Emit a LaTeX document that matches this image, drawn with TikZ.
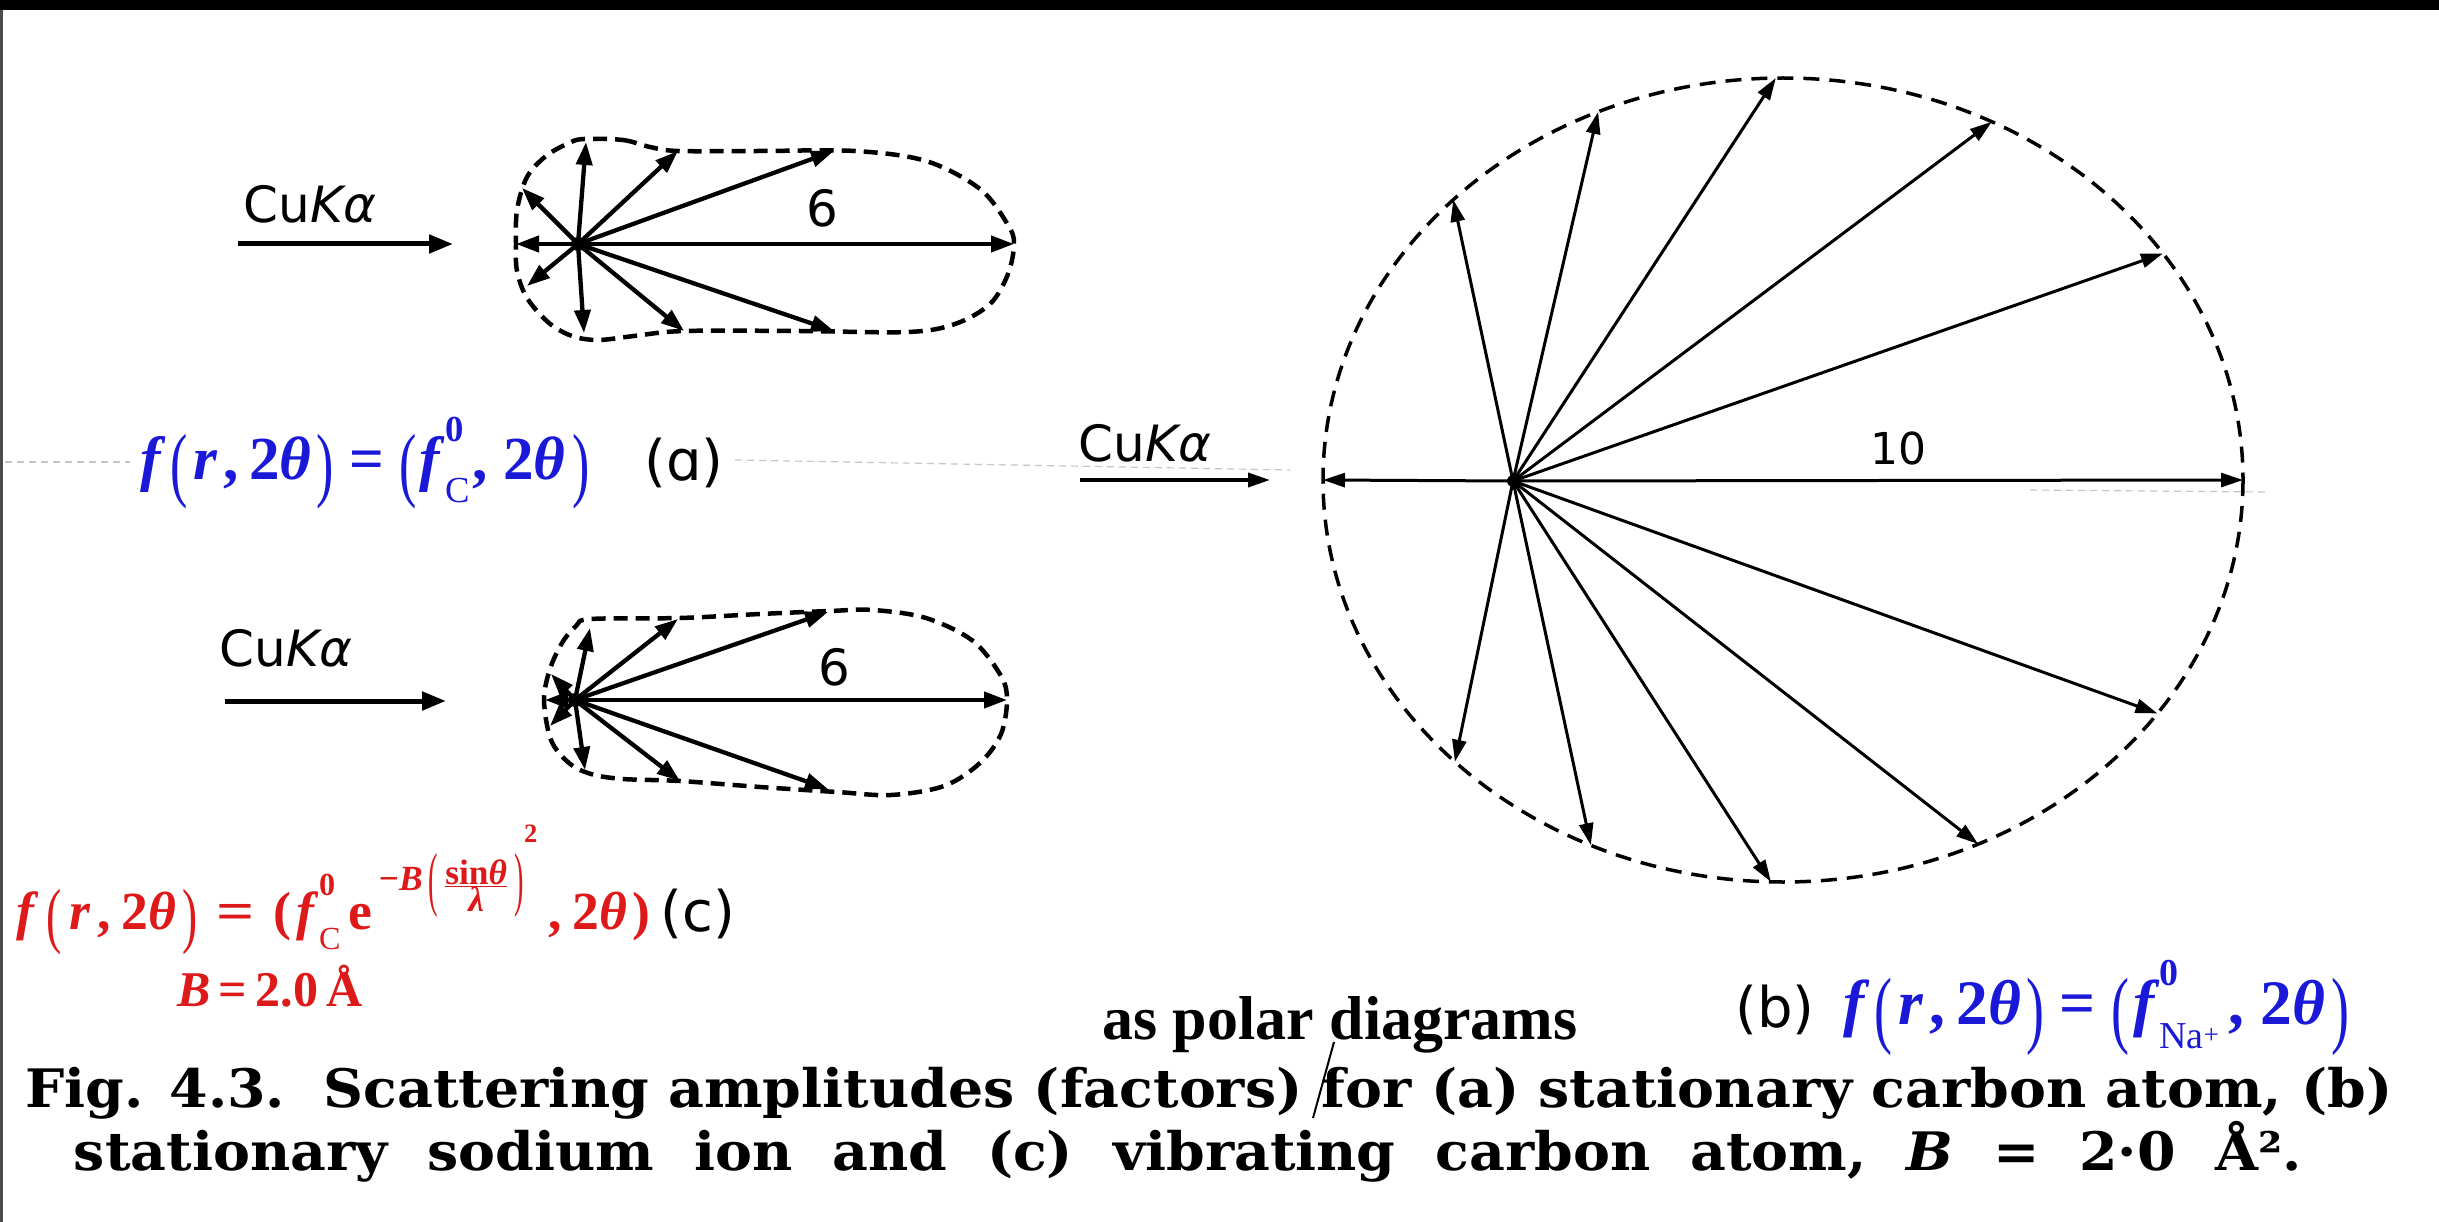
\documentclass[tikz,border=0pt]{standalone}
\usepackage{fontspec}
\setmainfont{Liberation Serif}
\newfontfamily\sansf{DejaVu Sans}
\newfontfamily\capfont{DejaVu Serif}
\usepackage{graphicx}
\usetikzlibrary{arrows.meta,calc}
\definecolor{fblue}{RGB}{25,25,215}
\definecolor{fred}{RGB}{222,25,25}
\newcommand\bpar[1]{\raisebox{-0.2em}{\scalebox{0.85}[1.35]{\mdseries\upshape #1}}}
\newcommand\tpar[1]{\raisebox{-0.34em}{\scalebox{0.8}[2.0]{\mdseries\upshape #1}}}
\newcommand\supsubsc[2]{\rlap{\raisebox{0.62em}{\scalebox{0.6}{#2}}}\raisebox{-0.38em}{\scalebox{0.6}{#1}}}
\newcommand\fr{\textit{f}\kern.08em\bpar{(}\kern.1em\textit{r}\kern.08em,\kern.18em2\textit{θ}\kern.08em\bpar{)}}
\newcommand\eqs{\kern.25em=\kern.25em}
\newcommand\frw{\textit{f}\kern.15em\bpar{(}\kern.15em\textit{r}\kern.12em,\kern.2em2\textit{θ}\kern.12em\bpar{)}}
\newcommand\eqw{\kern.35em\scalebox{1.25}[1]{=}\kern.35em}
\begin{document}
\begin{tikzpicture}[x=1pt,y=-1pt,
  lobe/.style={line width=4.5pt, dash pattern=on 14pt off 8pt},
  ray/.style={line width=4.3pt, -{Triangle[length=23pt,width=16pt]}},
  bigray/.style={line width=3pt, -{Triangle[length=22pt,width=14pt]}},
  circ/.style={line width=3.5pt, dash pattern=on 16pt off 10pt},
  beam/.style={line width=5pt, -{Triangle[length=24pt,width=18pt]}},
  thinbeam/.style={line width=3.5pt, -{Triangle[length=22pt,width=14pt]}},
  lab/.style={inner sep=0pt, font=\sansf\fontsize{50}{60}\selectfont},
  plab/.style={inner sep=0pt, font=\sansf\fontsize{56}{66}\selectfont},
  num/.style={inner sep=0pt, font=\sansf\fontsize{50}{60}\selectfont},
  frm/.style={inner sep=0pt, font=\bfseries\fontsize{58}{68}\selectfont},
  captxt/.style={inner sep=0pt, font=\capfont\bfseries\fontsize{53}{63}\selectfont},
  scan/.style={gray!45, line width=1.2pt, dash pattern=on 7pt off 5pt}]
\useasboundingbox (0,0) rectangle (2439,1222);
\fill[white] (0,0) rectangle (2439,1222);
\fill[black] (0,0) rectangle (2439,10);
\fill[black!70] (0,10) rectangle (3,1222);

% faint scan lines
\coordinate (s1a) at (5,462); \coordinate (s1b) at (130,462);
\coordinate (s2a) at (735,460); \coordinate (s2b) at (1290,470);
\coordinate (s3a) at (2030,490); \coordinate (s3b) at (2265,492);
\draw[scan] (s1a) -- (s1b);
\draw[scan] (s2a) -- (s2b);
\draw[scan] (s3a) -- (s3b);

% ---------------- diagram (a)
\node[lab] (cuA) at (310,204) {Cu\textit{Kα}};
\coordinate (bAs) at (238,244); \coordinate (bAe) at (453,244);
\draw[beam] (bAs) -- (bAe);
\coordinate (OA) at (578,244);
\draw[lobe] plot[smooth cycle, tension=0.55] coordinates {
 (584,139) (623,140) (650,147) (678,151) (760,151) (855,151) (926,161) (980,189)
 (1008,225) (1014,244) (1008,274) (990,304) (955,324) (908,332) (800,331) (684,331)
 (634,336) (598,340) (572,336) (549,323) (527,298) (517,271) (516,244) (517,210)
 (527,177) (546,156) (569,143)};
\foreach \n/\x/\y in {aL/516/244,aUL/522/188,aU/586/142,aU2/678/151,aU3/834/151,
  aR/1014/244,aDL/527/286,aD/584/333,aD2/684/331,aD3/834/331}{
  \coordinate (\n) at (\x,\y);
  \draw[ray] (OA) -- (\n);
}
\fill (OA) circle (7);
\node[num] (sixA) at (822,208) {6};

% ---------------- diagram (c)
\node[lab] (cuC) at (286,648) {Cu\textit{Kα}};
\coordinate (bCs) at (225,701); \coordinate (bCe) at (446,701);
\draw[beam] (bCs) -- (bCe);
\coordinate (OC) at (575,700);
\draw[lobe] plot[smooth cycle, tension=0.55] coordinates {
 (591,619) (680,618) (760,614) (830,611) (873,610) (926,618) (973,641) (1001,676)
 (1007,700) (1001,734) (980,763) (944,786) (891,795) (837,792) (760,787) (680,781)
 (623,779) (591,774) (569,763) (551,740) (544,700) (550,669) (562,643) (576,626)};
\foreach \n/\x/\y in {cL/545/700,cUL/551/674,cDL/550/726,cU/590/628,cU2/678/619,
  cU3/828/612,cR/1007/700,cD/585/770,cD2/680/781,cD3/828/789}{
  \coordinate (\n) at (\x,\y);
  \draw[ray] (OC) -- (\n);
}
\fill (OC) circle (7);
\node[num] (sixC) at (834,667) {6};

% ---------------- diagram (b)
\node[lab] (cuB) at (1145,443) {Cu\textit{Kα}};
\coordinate (bBs) at (1080,480); \coordinate (bBe) at (1270,480);
\draw[thinbeam] (bBs) -- (bBe);
\coordinate (E) at (1783,480);
\coordinate (OB) at (1513,481);
\draw[circ] (E) ellipse [x radius=460, y radius=402];
\foreach \n/\t in {b1/224.2,b2/246.3,b3/269.1,b4/297,b5/325.7,b6/0,b7/180,b8/35.5,b9/64.9,b10/91.5,b11/114.7,b12/135.5}{
  \coordinate (\n) at ($(E)+(\t:460 and 402)$);
  \draw[bigray] (OB) -- (\n);
}
\fill (OB) circle (6);
\node[num,font=\sansf\fontsize{44}{52}\selectfont] (ten) at (1898,448) {10};

% ---------------- formulas
\node[frm, anchor=west, text=fblue] (fA) at (140,463)
  {\resizebox{450pt}{!}{\fr\eqs\bpar{(}\kern.05em\textit{f}\supsubsc{\mdseries C}{0}\kern.05em,\kern.25em2\textit{θ}\kern.12em\bpar{)}}};
\node[plab] (labA) at (684,463) {(ɑ)};

\node[frm, anchor=base west, text=fred] (fC) at (16,929)
  {\resizebox{634pt}{!}{\frw\eqw(\kern.1em\textit{f}\supsubsc{\mdseries C}{0}\kern.15em e\kern.12em\raisebox{0.72em}{\scalebox{0.66}{−\textit{B}\kern.15em\tpar{(}\kern.2em$\frac{\hbox{sin\textit{θ}}}{\hbox{\textit{λ}}}$\kern.2em\tpar{)}\raisebox{1.35em}{\scalebox{0.75}{2}}}}\kern.2em,\kern.2em2\textit{θ}\kern.1em)}};
\node[plab] (labC) at (698,914) {(c)};
\node[frm, font=\bfseries\fontsize{50}{60}\selectfont, text=fred] (Bval) at (270,986) {\textit{B}\,=\,2.0\,Å};

\node[plab] (labB) at (1775,1010) {(b)};
\node[frm, anchor=west, text=fblue] (fB) at (1843,1008)
  {\resizebox{506pt}{!}{\fr\eqs\bpar{(}\kern.05em\textit{f}\supsubsc{\mdseries Na\textsuperscript{+}}{0}\kern.15em,\kern.25em2\textit{θ}\kern.1em\bpar{)}}};

% ---------------- caption
\node[inner sep=0pt, font=\bfseries\fontsize{62}{70}\selectfont] (polar) at (1340,1025) {as polar diagrams};
\coordinate (insTop) at (1334,1042); \coordinate (insBot) at (1313,1118);
\draw[line width=2pt] (insTop) -- (insBot);
\node[captxt, anchor=base] (cap1) at (1209,1107) {\scalebox{1.045}[1]{Fig. 4.3.\ \ Scattering amplitudes (factors) for (a) stationary carbon atom, (b)}};
\node[captxt, anchor=base] (cap2) at (1188,1170) {\scalebox{1.045}[1]{\spaceskip=0.72em stationary sodium ion and (c) vibrating carbon atom, \textit{B} = 2·0 Å².}};
\end{tikzpicture}
\end{document}
